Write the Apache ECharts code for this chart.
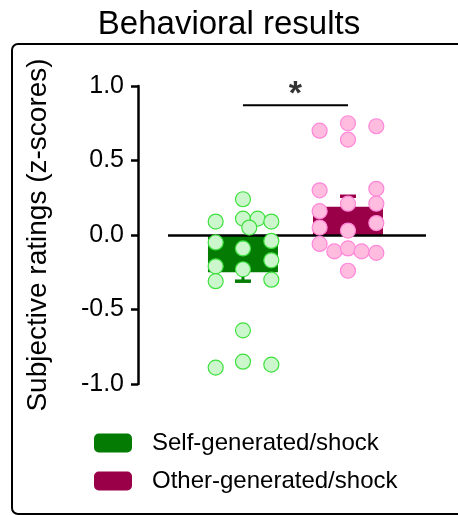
<!DOCTYPE html>
<html>
<head>
<meta charset="utf-8">
<script src="https://cdn.jsdelivr.net/npm/echarts@6/dist/echarts.min.js"></script>
<style>html,body{margin:0;padding:0;background:#fff}#c{width:458px;height:515px}</style>
</head>
<body>
<div id="c"></div>
<script>
// ---- data ----
const groups = ['Self-generated/shock', 'Other-generated/shock'];
const groupX = [1, 2];
const means = [-0.25, 0.19];
const errEnds = [-0.31, 0.26];
const yTicks = [-1.0, -0.5, 0.0, 0.5, 1.0];
// individual points: x = group position + jitter offset, y = rating
const selfX = [1.0, 0.74, 1.0, 1.14, 1.27, 1.06, 0.74, 1.0, 1.27, 0.74, 1.0, 1.27, 0.74, 1.27, 1.0, 1.0, 0.74, 1.27];
const selfY = [0.24, 0.09, 0.11, 0.11, 0.09, 0.05, -0.05, -0.09, -0.04, -0.21, -0.23, -0.17, -0.31, -0.30, -0.64, -0.85, -0.89, -0.87];
const otherX = [1.73, 2.0, 2.27, 2.0, 1.73, 2.27, 2.0, 2.27, 1.73, 1.73, 2.0, 2.27, 1.73, 1.87, 2.0, 2.13, 2.27, 2.0];
const otherY = [0.70, 0.75, 0.73, 0.64, 0.30, 0.31, 0.21, 0.21, 0.16, 0.05, 0.03, 0.08, -0.06, -0.11, -0.09, -0.11, -0.12, -0.24];
const sigLevel = 0.87;
const sigMark = '*';

const barColors = ['#047c04', '#990048'];
const dotFill = ['#ccf7cc', '#ffbcde'];
const dotStroke = ['#3ee03e', '#ff86d8'];
const FONT = 'Liberation Sans';

const chart = echarts.init(document.getElementById('c'), null, {renderer: 'canvas'});
const zip = (a, b) => a.map((v, i) => [v, b[i]]);

const barSeries = groups.map((g, i) => ({
  name: g,
  type: 'bar',
  data: [[groupX[i], means[i]]],
  barWidth: 70,
  barGap: '-100%',
  itemStyle: {color: barColors[i]},
  z: 2
}));

const errSeries = {
  type: 'custom',
  data: groupX.map((x, i) => [x, means[i], errEnds[i], i]),
  renderItem: function (params, api) {
    const x = api.value(0), m = api.value(1), e = api.value(2), idx = api.value(3);
    const p0 = api.coord([x, m]);
    const p1 = api.coord([x, e]);
    const c = barColors[idx];
    return {
      type: 'group',
      children: [
        {type: 'line', shape: {x1: p0[0], y1: p0[1], x2: p1[0], y2: p1[1]}, style: {stroke: c, lineWidth: 3}},
        {type: 'line', shape: {x1: p1[0] - 8, y1: p1[1], x2: p1[0] + 8, y2: p1[1]}, style: {stroke: c, lineWidth: 3.5}}
      ]
    };
  },
  z: 3
};

const dotSeries = [[selfX, selfY], [otherX, otherY]].map((d, i) => ({
  type: 'scatter',
  data: zip(d[0], d[1]),
  symbolSize: 15,
  itemStyle: {color: dotFill[i], borderColor: dotStroke[i], borderWidth: 1.2, opacity: 1},
  z: 5,
  silent: true
}));

const sigSeries = {
  type: 'line',
  data: [[groupX[0], sigLevel], [groupX[1], sigLevel]],
  symbol: 'none',
  lineStyle: {color: '#000', width: 2},
  z: 4
};
const starSeries = {
  type: 'scatter',
  data: [[(groupX[0] + groupX[1]) / 2, sigLevel]],
  symbolSize: 0,
  label: {show: true, position: 'top', distance: -6, formatter: sigMark, fontSize: 34, fontWeight: 'bold', color: '#000', fontFamily: FONT},
  z: 6
};

const zeroLine = {
  type: 'line',
  data: [],
  markLine: {
    silent: true,
    symbol: 'none',
    label: {show: false},
    lineStyle: {color: '#000', width: 2.5, type: 'solid'},
    data: [{yAxis: 0}]
  },
  z: 1
};

chart.setOption({
  animation: false,
  backgroundColor: '#fff',
  textStyle: {fontFamily: FONT},
  title: {
    text: 'Behavioral results',
    left: 'center',
    top: 3,
    textStyle: {fontSize: 33, fontWeight: 'normal', color: '#000', fontFamily: FONT}
  },
  graphic: [{
    type: 'rect',
    shape: {x: 12, y: 44, width: 470, height: 470, r: 6},
    style: {fill: 'none', stroke: '#000', lineWidth: 2},
    z: 0
  }],
  legend: {
    orient: 'vertical',
    left: 89,
    top: 426,
    itemWidth: 38,
    itemHeight: 19,
    itemGap: 14,
    data: groups,
    textStyle: {fontSize: 24, color: '#000', padding: [0, 0, 0, 15], fontFamily: FONT},
    selectedMode: false
  },
  grid: {left: 168, top: 86, width: 258, height: 298},
  xAxis: {
    type: 'value',
    min: 0.286,
    max: 2.743,
    show: false
  },
  yAxis: {
    type: 'value',
    min: -1,
    max: 1,
    interval: 0.5,
    offset: 30,
    name: 'Subjective ratings (z-scores)',
    nameLocation: 'middle',
    nameGap: 86,
    nameTextStyle: {fontSize: 28, color: '#000', fontFamily: FONT},
    axisLine: {show: true, lineStyle: {color: '#000', width: 2.5}},
    axisTick: {show: true, length: 7, lineStyle: {color: '#000', width: 2.5}},
    axisLabel: {fontSize: 25, color: '#000', margin: 14, formatter: v => v.toFixed(1), fontFamily: FONT},
    splitLine: {show: false}
  },
  series: [zeroLine, ...barSeries, errSeries, ...dotSeries, sigSeries, starSeries]
});
</script>
</body>
</html>
